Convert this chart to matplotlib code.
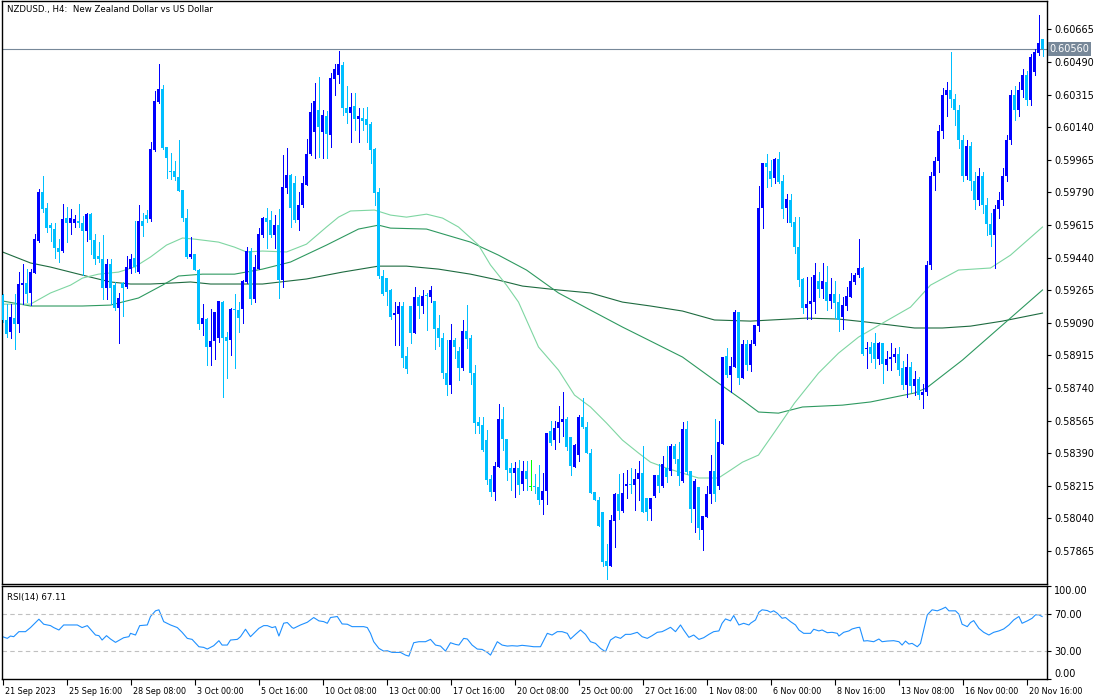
import numpy as np
import matplotlib
matplotlib.use("Agg")
import matplotlib.pyplot as plt
from matplotlib.transforms import ScaledTranslation, blended_transform_factory

# NZDUSD H4 candles, 21 Sep 2023 00:00 onwards (bar index = position)
opens = [
    0.59238, 0.59104, 0.59038, 0.59113, 0.59081, 0.59292, 0.59301, 0.59251, 0.59358, 0.59530,
    0.59793, 0.59704, 0.59614, 0.59593, 0.59492, 0.59474, 0.59650, 0.59623, 0.59623, 0.59637,
    0.59627, 0.59582, 0.59673, 0.59534, 0.59449, 0.59432, 0.59274, 0.59405, 0.59292, 0.59167,
    0.59306, 0.59283, 0.59381, 0.59440, 0.59364, 0.59637, 0.59668, 0.59646, 0.60017, 0.60276,
    0.60344, 0.60031, 0.59906, 0.59904, 0.59870, 0.59802, 0.59653, 0.59444, 0.59458, 0.59372,
    0.59081, 0.59109, 0.58961, 0.58991, 0.59009, 0.59202, 0.59014, 0.58997, 0.59163, 0.59158,
    0.59163, 0.59310, 0.59476, 0.59217, 0.59381, 0.59561, 0.59650, 0.59641, 0.59561, 0.59614,
    0.59319, 0.59811, 0.59883, 0.59842, 0.59641, 0.59722, 0.59829, 0.59996, 0.60116, 0.60232,
    0.60112, 0.60202, 0.60098, 0.60401, 0.60420, 0.60474, 0.60244, 0.60214, 0.60253, 0.60184,
    0.60191, 0.60184, 0.60157, 0.60022, 0.59793, 0.59342, 0.59332, 0.59266, 0.59131, 0.59135,
    0.59181, 0.58911, 0.59181, 0.59033, 0.59226, 0.59180, 0.59239, 0.59230, 0.59208, 0.59060,
    0.59006, 0.58818, 0.58755, 0.58997, 0.58938, 0.58845, 0.59045, 0.59006, 0.58818, 0.58559,
    0.58541, 0.58460, 0.58249, 0.58183, 0.58317, 0.58576, 0.58466, 0.58308, 0.58285, 0.58313,
    0.58224, 0.58294, 0.58210, 0.58213, 0.58210, 0.58138, 0.58186, 0.58508, 0.58460, 0.58523,
    0.58555, 0.58573, 0.58478, 0.58317, 0.58383, 0.58585, 0.58532, 0.58392, 0.58183, 0.58141,
    0.58072, 0.57810, 0.57785, 0.58027, 0.58170, 0.58081, 0.58213, 0.58227, 0.58218, 0.58249,
    0.58285, 0.58150, 0.58088, 0.58159, 0.58272, 0.58213, 0.58313, 0.58294, 0.58428, 0.58358,
    0.58240, 0.58519, 0.58294, 0.58088, 0.58209, 0.57980, 0.58048, 0.58170, 0.58294, 0.58213,
    0.58442, 0.58911, 0.58809, 0.58854, 0.59149, 0.58791, 0.58976, 0.58863, 0.58976, 0.59074,
    0.59704, 0.59949, 0.59905, 0.59869, 0.59969, 0.59851, 0.59704, 0.59749, 0.59629, 0.59495,
    0.59325, 0.59167, 0.59190, 0.59203, 0.59314, 0.59271, 0.59310, 0.59208, 0.59244, 0.59199,
    0.59122, 0.59181, 0.59230, 0.59310, 0.59346, 0.59385, 0.58947, 0.58961, 0.58983, 0.58898,
    0.58983, 0.58863, 0.58893, 0.58904, 0.58920, 0.58845, 0.58755, 0.58850, 0.58750, 0.58790,
    0.58700, 0.58720, 0.59400, 0.59880, 0.59960, 0.60120, 0.60310, 0.60340, 0.60290, 0.60230,
    0.60070, 0.59880, 0.60040, 0.59850, 0.59750, 0.59880, 0.59720, 0.59620, 0.59560, 0.59700,
    0.59750, 0.59880, 0.60070, 0.60310, 0.60230, 0.60340, 0.60420, 0.60285, 0.60436, 0.60538,
    0.60613,
]
highs = [
    0.59242, 0.59193, 0.59193, 0.59242, 0.59364, 0.59405, 0.59378, 0.59378, 0.59566, 0.59807,
    0.59879, 0.59734, 0.59627, 0.59627, 0.59539, 0.59730, 0.59712, 0.59698, 0.59668, 0.59727,
    0.59662, 0.59677, 0.59677, 0.59566, 0.59525, 0.59560, 0.59432, 0.59432, 0.59310, 0.59251,
    0.59310, 0.59448, 0.59458, 0.59637, 0.59722, 0.59677, 0.59695, 0.60058, 0.60335, 0.60479,
    0.60366, 0.60031, 0.60003, 0.59958, 0.60071, 0.59802, 0.59700, 0.59551, 0.59458, 0.59378,
    0.59190, 0.59116, 0.59163, 0.59149, 0.59206, 0.59206, 0.59041, 0.59167, 0.59247, 0.59199,
    0.59319, 0.59498, 0.59492, 0.59453, 0.59600, 0.59659, 0.59704, 0.59691, 0.59668, 0.59700,
    0.59990, 0.60026, 0.59890, 0.59878, 0.59793, 0.59878, 0.60076, 0.60268, 0.60375, 0.60407,
    0.60232, 0.60228, 0.60429, 0.60477, 0.60549, 0.60492, 0.60363, 0.60321, 0.60321, 0.60241,
    0.60241, 0.60250, 0.60166, 0.60026, 0.59815, 0.59373, 0.59332, 0.59269, 0.59203, 0.59199,
    0.59199, 0.58961, 0.59181, 0.59284, 0.59239, 0.59266, 0.59248, 0.59287, 0.59208, 0.59131,
    0.59033, 0.58997, 0.59083, 0.59006, 0.58961, 0.59105, 0.59185, 0.59024, 0.58863, 0.58585,
    0.58585, 0.58517, 0.58272, 0.58344, 0.58653, 0.58636, 0.58466, 0.58338, 0.58344, 0.58353,
    0.58349, 0.58349, 0.58353, 0.58281, 0.58326, 0.58285, 0.58501, 0.58564, 0.58564, 0.58643,
    0.58716, 0.58585, 0.58478, 0.58442, 0.58594, 0.58687, 0.58559, 0.58410, 0.58183, 0.58156,
    0.58072, 0.57902, 0.58057, 0.58177, 0.58278, 0.58285, 0.58299, 0.58308, 0.58303, 0.58347,
    0.58428, 0.58150, 0.58150, 0.58272, 0.58331, 0.58374, 0.58428, 0.58439, 0.58439, 0.58451,
    0.58558, 0.58562, 0.58294, 0.58254, 0.58209, 0.58052, 0.58213, 0.58379, 0.58571, 0.58562,
    0.58904, 0.58952, 0.58904, 0.59158, 0.59149, 0.58997, 0.58997, 0.58997, 0.59078, 0.59824,
    0.59949, 0.59996, 0.59964, 0.59973, 0.60005, 0.59883, 0.59781, 0.59781, 0.59656, 0.59656,
    0.59332, 0.59337, 0.59337, 0.59412, 0.59364, 0.59412, 0.59394, 0.59332, 0.59316, 0.59244,
    0.59230, 0.59280, 0.59359, 0.59359, 0.59539, 0.59391, 0.58988, 0.58988, 0.59036, 0.58988,
    0.58983, 0.58940, 0.58979, 0.58952, 0.58961, 0.58884, 0.58925, 0.58880, 0.58830, 0.58800,
    0.58760, 0.59420, 0.59900, 0.59980, 0.60150, 0.60350, 0.60380, 0.60543, 0.60320, 0.60260,
    0.60100, 0.60070, 0.60060, 0.59900, 0.59920, 0.59900, 0.59760, 0.59680, 0.59720, 0.59790,
    0.59920, 0.60100, 0.60340, 0.60360, 0.60380, 0.60450, 0.60440, 0.60530, 0.60560, 0.60742,
    0.60613,
]
lows = [
    0.59095, 0.59014, 0.59006, 0.58948, 0.59038, 0.59193, 0.59202, 0.59188, 0.59355, 0.59525,
    0.59686, 0.59578, 0.59530, 0.59440, 0.59417, 0.59471, 0.59525, 0.59569, 0.59605, 0.59602,
    0.59346, 0.59530, 0.59458, 0.59408, 0.59417, 0.59220, 0.59220, 0.59193, 0.59161, 0.58984,
    0.59127, 0.59278, 0.59355, 0.59364, 0.59355, 0.59555, 0.59632, 0.59637, 0.60013, 0.60267,
    0.60022, 0.59865, 0.59861, 0.59856, 0.59799, 0.59637, 0.59440, 0.59440, 0.59372, 0.59056,
    0.59023, 0.58862, 0.58866, 0.58895, 0.58988, 0.58692, 0.58794, 0.58916, 0.58848, 0.59041,
    0.59091, 0.59301, 0.59193, 0.59202, 0.59381, 0.59552, 0.59489, 0.59552, 0.59489, 0.59221,
    0.59283, 0.59784, 0.59605, 0.59632, 0.59588, 0.59713, 0.59829, 0.59990, 0.59972, 0.59981,
    0.59976, 0.59972, 0.60035, 0.60313, 0.60375, 0.60205, 0.60160, 0.60062, 0.60125, 0.60062,
    0.60125, 0.60058, 0.59946, 0.59722, 0.59328, 0.59239, 0.59185, 0.59108, 0.58970, 0.58970,
    0.58854, 0.58822, 0.58979, 0.59033, 0.59113, 0.59140, 0.59051, 0.59203, 0.58949, 0.58965,
    0.58791, 0.58702, 0.58711, 0.58899, 0.58782, 0.58836, 0.58952, 0.58764, 0.58496, 0.58496,
    0.58403, 0.58227, 0.58159, 0.58138, 0.58317, 0.58406, 0.58245, 0.58195, 0.58156, 0.58170,
    0.58192, 0.58195, 0.58195, 0.58174, 0.58120, 0.58066, 0.58120, 0.58433, 0.58415, 0.58451,
    0.58483, 0.58406, 0.58272, 0.58317, 0.58349, 0.58523, 0.58389, 0.58177, 0.58138, 0.57998,
    0.57783, 0.57717, 0.57785, 0.57884, 0.58039, 0.58075, 0.58147, 0.58174, 0.58084, 0.58138,
    0.58075, 0.58034, 0.58034, 0.58156, 0.58183, 0.58209, 0.58236, 0.58272, 0.58335, 0.58218,
    0.58236, 0.58281, 0.58021, 0.57968, 0.57927, 0.57873, 0.58048, 0.58124, 0.58134, 0.58200,
    0.58442, 0.58800, 0.58720, 0.58854, 0.58764, 0.58791, 0.58836, 0.58832, 0.58970, 0.59047,
    0.59600, 0.59820, 0.59826, 0.59842, 0.59838, 0.59654, 0.59632, 0.59609, 0.59462, 0.59289,
    0.59140, 0.59108, 0.59108, 0.59140, 0.59230, 0.59221, 0.59158, 0.59167, 0.59113, 0.59047,
    0.59056, 0.59158, 0.59230, 0.59298, 0.59337, 0.58916, 0.58848, 0.58881, 0.58848, 0.58868,
    0.58768, 0.58836, 0.58839, 0.58881, 0.58810, 0.58737, 0.58689, 0.58720, 0.58700, 0.58680,
    0.58632, 0.58700, 0.59380, 0.59800, 0.59900, 0.60080, 0.60200, 0.60250, 0.60150, 0.60030,
    0.59850, 0.59860, 0.59800, 0.59700, 0.59720, 0.59680, 0.59560, 0.59500, 0.59384, 0.59650,
    0.59720, 0.59850, 0.60050, 0.60180, 0.60200, 0.60300, 0.60260, 0.60260, 0.60420, 0.60527,
    0.60521,
]
closes = [
    0.59104, 0.59032, 0.59122, 0.59081, 0.59296, 0.59303, 0.59247, 0.59364, 0.59539, 0.59793,
    0.59700, 0.59596, 0.59596, 0.59489, 0.59471, 0.59646, 0.59623, 0.59655, 0.59645, 0.59623,
    0.59582, 0.59673, 0.59532, 0.59432, 0.59430, 0.59274, 0.59405, 0.59274, 0.59167, 0.59224,
    0.59278, 0.59390, 0.59432, 0.59387, 0.59637, 0.59609, 0.59646, 0.60022, 0.60282, 0.60344,
    0.60029, 0.59972, 0.59901, 0.59870, 0.59799, 0.59650, 0.59444, 0.59458, 0.59372, 0.59086,
    0.59113, 0.58961, 0.58993, 0.59149, 0.59206, 0.59006, 0.58993, 0.59163, 0.59158, 0.59117,
    0.59313, 0.59476, 0.59217, 0.59387, 0.59569, 0.59650, 0.59632, 0.59561, 0.59614, 0.59319,
    0.59817, 0.59883, 0.59707, 0.59641, 0.59722, 0.59838, 0.59996, 0.60223, 0.60280, 0.60142,
    0.60205, 0.60101, 0.60406, 0.60452, 0.60477, 0.60241, 0.60214, 0.60246, 0.60184, 0.60202,
    0.60173, 0.60151, 0.60017, 0.59788, 0.59342, 0.59242, 0.59253, 0.59122, 0.59140, 0.59181,
    0.58902, 0.58840, 0.59033, 0.59230, 0.59180, 0.59233, 0.59233, 0.59266, 0.59056, 0.59006,
    0.58818, 0.58755, 0.58997, 0.58958, 0.58845, 0.59045, 0.59003, 0.58818, 0.58553, 0.58537,
    0.58406, 0.58245, 0.58183, 0.58320, 0.58573, 0.58466, 0.58299, 0.58285, 0.58313, 0.58218,
    0.58294, 0.58254, 0.58210, 0.58206, 0.58138, 0.58186, 0.58501, 0.58446, 0.58523, 0.58555,
    0.58576, 0.58424, 0.58320, 0.58433, 0.58585, 0.58532, 0.58389, 0.58177, 0.58141, 0.57998,
    0.57807, 0.57785, 0.58030, 0.58170, 0.58081, 0.58177, 0.58227, 0.58218, 0.58249, 0.58285,
    0.58075, 0.58075, 0.58150, 0.58272, 0.58213, 0.58331, 0.58263, 0.58428, 0.58358, 0.58267,
    0.58519, 0.58290, 0.58088, 0.58240, 0.57986, 0.58052, 0.58170, 0.58294, 0.58170, 0.58448,
    0.58904, 0.58809, 0.58857, 0.59149, 0.58795, 0.58976, 0.58863, 0.58976, 0.59078, 0.59704,
    0.59949, 0.59928, 0.59862, 0.59969, 0.59847, 0.59699, 0.59752, 0.59627, 0.59495, 0.59319,
    0.59171, 0.59190, 0.59206, 0.59346, 0.59271, 0.59316, 0.59208, 0.59242, 0.59194, 0.59104,
    0.59185, 0.59235, 0.59314, 0.59346, 0.59385, 0.58925, 0.58956, 0.58925, 0.58898, 0.58983,
    0.58868, 0.58895, 0.58908, 0.58920, 0.58836, 0.58755, 0.58850, 0.58750, 0.58790, 0.58700,
    0.58720, 0.59400, 0.59880, 0.59960, 0.60120, 0.60310, 0.60340, 0.60290, 0.60230, 0.60070,
    0.59880, 0.60040, 0.59850, 0.59750, 0.59880, 0.59720, 0.59620, 0.59560, 0.59700, 0.59750,
    0.59880, 0.60070, 0.60310, 0.60230, 0.60340, 0.60420, 0.60285, 0.60516, 0.60543, 0.60591,
    0.60560,
]

# three moving averages at a few bars each
fast_ma_bars = [0, 7, 12, 17, 20, 24, 29, 33, 37, 41, 45, 48, 54, 58, 61, 65, 71, 76, 81, 84,
                87, 93, 97, 101, 106, 110, 114, 119, 122, 126, 129, 134, 139, 143, 147, 151, 155, 159, 162, 166,
                170, 174, 179, 182, 185, 189, 193, 198, 204, 209, 214, 220, 227, 232, 239, 247, 252, 260]
fast_ma = [0.59190, 0.59190, 0.59250, 0.59292, 0.59330, 0.59351, 0.59362, 0.59389, 0.59443, 0.59507,
           0.59545, 0.59539, 0.59523, 0.59496, 0.59470, 0.59475, 0.59470, 0.59512, 0.59604, 0.59657,
           0.59690, 0.59695, 0.59668, 0.59657, 0.59673, 0.59652, 0.59604, 0.59507, 0.59400, 0.59292,
           0.59201, 0.58960, 0.58836, 0.58702, 0.58638, 0.58552, 0.58460, 0.58391, 0.58342, 0.58310,
           0.58283, 0.58257, 0.58257, 0.58299, 0.58342, 0.58380, 0.58503, 0.58659, 0.58820, 0.58927,
           0.59013, 0.59088, 0.59174, 0.59292, 0.59373, 0.59384, 0.59453, 0.59604]
mid_ma_bars = [0, 7, 20, 27, 29, 34, 40, 44, 50, 58, 65, 72, 81, 89, 94, 97, 106, 111, 117, 124,
               131, 139, 147, 155, 162, 170, 179, 185, 189, 194, 200, 210, 217, 228, 231, 240, 250, 260]
mid_ma = [0.59207, 0.59180, 0.59180, 0.59185, 0.59196, 0.59223, 0.59292, 0.59341, 0.59351, 0.59351,
          0.59378, 0.59416, 0.59507, 0.59593, 0.59614, 0.59598, 0.59593, 0.59561, 0.59523, 0.59453,
          0.59373, 0.59250, 0.59158, 0.59067, 0.58992, 0.58906, 0.58766, 0.58675, 0.58611, 0.58605,
          0.58638, 0.58648, 0.58665, 0.58713, 0.58740, 0.58890, 0.59078, 0.59266]
slow_ma_bars = [0, 7, 12, 17, 22, 27, 32, 37, 42, 47, 52, 57, 65, 76, 85, 94, 101, 109, 117, 124,
                130, 139, 147, 155, 162, 170, 178, 187, 201, 209, 216, 222, 228, 235, 242, 250, 260]
slow_ma = [0.59470, 0.59411, 0.59389, 0.59362, 0.59335, 0.59309, 0.59298, 0.59298, 0.59303, 0.59309,
           0.59298, 0.59298, 0.59298, 0.59325, 0.59362, 0.59394, 0.59394, 0.59378, 0.59351, 0.59319,
           0.59287, 0.59266, 0.59250, 0.59201, 0.59180, 0.59153, 0.59105, 0.59099, 0.59115, 0.59110,
           0.59094, 0.59078, 0.59062, 0.59062, 0.59072, 0.59099, 0.59142]

# RSI(14)
rsi_bars = [0, 1.2, 2, 2.8, 4.1, 5.75, 7, 9.1, 10.3, 12, 12.8, 14.1, 15.3, 18.7, 19.9, 21.2, 23.25, 24.1, 24.9, 26,
            27, 28.25, 30.3, 31.6, 32, 33.25, 34.3, 36.2, 37, 38.25, 39.1, 40.3, 42, 43.7, 44.9, 46.2, 47.4, 49.1, 50.3, 51.2,
            52.8, 54.1, 54.9, 56.2, 57, 58.7, 59.5, 60.75, 62, 64.1, 65.3, 66.2, 67.4, 68.25, 69.1, 70.3, 71.2, 72.4, 72.8, 74.5,
            76.2, 77.8, 79.1, 80.3, 81.2, 82, 83.7, 84.9, 86.2, 87.4, 90.3, 91.2, 92, 92.8, 94.1, 95.3, 96.2, 97.4, 98.7,
            99.5, 100.75, 101.6, 102.8, 104.1, 105.75, 107, 108.25, 109.5, 110.75, 112, 113.25, 114.1, 115.3, 116.2, 117.4,
            118.7, 119.9, 121.2, 122, 123.7, 124.9, 126.2, 127.4, 128.7, 129.9, 131.6, 132.8, 134.5, 136.2, 137.4, 138.7,
            139.9, 141.2, 142, 143.25, 144.5, 145.75, 147, 148.25, 149.5, 150.75, 152, 153.25, 154.5, 155.75, 157, 158.7,
            159.9, 161.2, 162.4, 163.7, 164.9, 165.75, 167, 168.25, 169.5, 170.3, 171.6, 172.8, 174.1, 175.3, 176.6, 177.8,
            179.1, 179.9, 180.75, 182, 182.8, 184.1, 185.3, 186.6,
            187, 188.25, 189.1, 189.9, 191.2, 192, 192.8, 193.7, 194.9, 195.75, 197, 198.25, 199.1, 200.3, 202, 202.8,
            204.1, 204.9, 206.2, 207.4, 208.7, 209.1, 210.3, 211.6, 212.4, 213.7, 214.3, 215.3, 216.2, 217.8, 219.1, 219.9,
            221.2, 222.8, 224.1, 224.9, 225.75, 226.6, 227.4, 228.7, 229.5, 230.3, 231.2, 232.4, 233.7, 234.9, 235.75, 236.6,
            238.25, 239.1, 239.9, 241.2, 242, 242.8, 244.1, 245.3, 246.6, 247.8, 249.1, 250.3, 251.6, 252.8, 254.1, 254.9,
            256.2, 257.4, 258.25, 259.1, 259.9]
rsi_vals = [45.5, 43.7, 46.2, 45.5, 50.9, 50.9, 55.3, 64.3, 58.9, 57.4, 55.3, 52.7, 58.1, 58.1, 55.3, 57.4, 47.3, 46.6, 41.9, 46.6,
            43.0, 39.4, 44.4, 45.5, 49.1, 47.3, 57.4, 58.1, 67.2, 73.3, 74.4, 61.7, 58.1, 55.3, 50.2, 43.7, 42.6, 34.7, 34.0, 32.2,
            35.8, 41.2, 36.5, 36.5, 41.9, 42.6, 45.5, 53.5, 45.5, 54.5, 57.4, 57.4, 55.3, 56.3, 46.2, 60.0, 60.7, 55.3, 54.5, 58.1,
            61.0, 66.1, 62.5, 61.7, 59.9, 66.1, 67.2, 59.2, 58.9, 56.3, 56.3, 55.3, 49.1, 40.1, 32.9, 30.0, 30.4, 28.6, 28.6,
            28.6, 25.7, 24.6, 39.0, 40.1, 40.1, 42.6, 36.5, 35.4, 30.0, 39.0, 37.2, 36.5, 43.7, 43.0, 36.5,
            32.2, 31.8, 28.6, 25.7, 40.1, 36.5, 35.4, 35.8, 35.4, 36.2, 35.4, 34.7, 34.7, 49.1, 47.3, 50.9,
            50.9, 49.1, 43.0, 48.0, 52.7, 48.0, 40.1, 38.3, 32.9, 29.3, 41.9, 45.5, 43.7, 48.0, 48.0, 50.2,
            45.5, 43.7, 46.6, 50.2, 50.9, 52.7, 55.6, 50.9, 58.1, 52.7, 44.8, 47.3, 42.6, 44.4, 48.0, 50.9,
            51.7, 59.9, 64.6, 62.5, 68.2, 58.1, 59.9, 58.1,
            59.9, 63.5, 71.8, 74.4, 73.6, 71.8, 73.3, 70.7, 65.3, 66.1, 61.7, 58.1, 52.7, 49.1, 49.1, 53.5,
            51.7, 52.7, 49.8, 50.2, 49.1, 46.2, 50.2, 51.7, 53.8, 55.3, 55.6, 40.8, 41.2, 40.1, 43.0, 40.1,
            40.8, 41.2, 40.1, 36.5, 40.8, 37.6, 38.3, 34.7, 38.3, 52.7, 69.0, 74.4, 73.3, 75.4, 77.2, 73.3,
            73.3, 69.7, 58.9, 56.3, 60.7, 62.8, 54.5, 50.2, 47.3, 50.2, 51.7, 53.8, 58.1, 63.5, 67.2, 59.9,
            62.5, 65.3, 69.0, 69.0, 67.2]

tick_bars = list(range(0, 257, 16))
tick_labels = ['21 Sep 2023', '25 Sep 16:00', '28 Sep 08:00', '3 Oct 00:00', '5 Oct 16:00',
               '10 Oct 08:00', '13 Oct 00:00', '17 Oct 16:00', '20 Oct 08:00', '25 Oct 00:00',
               '27 Oct 16:00', '1 Nov 08:00', '6 Nov 00:00', '8 Nov 16:00', '13 Nov 08:00',
               '16 Nov 00:00', '20 Nov 16:00']
price_ticks = [0.57865, 0.58040, 0.58215, 0.58390, 0.58565, 0.58740, 0.58915, 0.59090, 0.59265,
               0.59440, 0.59615, 0.59790, 0.59965, 0.60140, 0.60315, 0.60490, 0.60665]
last_price = 0.60560
rsi_last = 67.11

BULL = '#0000FF'
BEAR = '#00BFFF'
DOJI = '#00FF00'
FS = 7         # price / rsi scale
FS_TIME = 5.8  # time scale
FS_INFO = 6.2  # panel captions


def draw_candles(ax):
    o = np.array(opens)
    h = np.array(highs)
    l = np.array(lows)
    c = np.array(closes)
    x = np.arange(len(c))
    colors = np.where(c > o, BULL, np.where(c < o, BEAR, DOJI))
    # 1px wicks and 3px bodies, no smoothing, like the terminal draws them
    ax.vlines(x, l, h, colors=colors, lw=0.72, antialiased=False, zorder=3)
    body = np.maximum(np.abs(c - o), 0.00004)
    ax.bar(x, body, bottom=np.minimum(o, c), width=0.72, color=colors, lw=0,
           antialiased=False, zorder=4)


def style_frame(ax):
    for s in ax.spines.values():
        s.set_color('black')
        s.set_linewidth(1.0)
    ax.yaxis.tick_right()
    ax.tick_params(axis='y', direction='out', length=3, width=0.8, pad=2, labelsize=FS)


fig = plt.figure(figsize=(11, 7), dpi=100)
W, H = 1100.0, 700.0
ax = fig.add_axes([1.5 / W, (H - 584) / H, 1045.5 / W, 583 / H])
ax2 = fig.add_axes([1.5 / W, (H - 679) / H, 1045.5 / W, 93 / H])

# 4 px per bar, bar centres on pixel centres
x_lo = -0.25
x_hi = x_lo + 1045.5 / 4

# price panel
draw_candles(ax)
ax.plot(slow_ma_bars, slow_ma, color='#1E6B40', lw=0.8, zorder=2)
ax.plot(mid_ma_bars, mid_ma, color='#2E9960', lw=0.8, zorder=2)
ax.plot(fast_ma_bars, fast_ma, color='#7ED6A2', lw=0.8, zorder=2)
ax.axhline(last_price, color='#778899', lw=0.8, zorder=1)
ax.set_xlim(x_lo, x_hi)
ax.set_ylim(0.57688, 0.60817)
ax.set_xticks([])
ax.set_yticks(price_ticks)
ax.set_yticklabels(['%.5f' % p for p in price_ticks])
style_frame(ax)
trans = blended_transform_factory(ax.transAxes, ax.transData)
ax.text(1.0025, last_price, '%.5f' % last_price, transform=trans, color='white', fontsize=FS,
        va='center', ha='left', bbox=dict(fc='#778899', ec='none', pad=1.2), zorder=10)
ax.text(0.005, 0.993, 'NZDUSD., H4:  New Zealand Dollar vs US Dollar', transform=ax.transAxes,
        va='top', ha='left', fontsize=FS_INFO)

# RSI panel
ax2.plot(rsi_bars, rsi_vals, color='#1E90FF', lw=0.8)
ax2.axhline(70, color='#C0C0C0', lw=0.8, ls=(0, (4, 3)))
ax2.axhline(30, color='#C0C0C0', lw=0.8, ls=(0, (4, 3)))
ax2.set_xlim(x_lo, x_hi)
ax2.set_ylim(0, 100)
ax2.set_yticks([0, 30, 70, 100])
ax2.set_yticklabels(['0.00', '30.00', '70.00', '100.00'])
style_frame(ax2)
ylabels = ax2.get_yticklabels()
ylabels[0].set_va('bottom')
ylabels[3].set_va('top')
ax2.text(0.005, 0.93, 'RSI(14) %.2f' % rsi_last, transform=ax2.transAxes, va='top', ha='left',
         fontsize=FS_INFO)

ax2.set_xticks(tick_bars)
ax2.set_xticklabels(tick_labels)
ax2.tick_params(axis='x', direction='out', length=4, width=0.8, pad=1.5, labelsize=FS_TIME)
shift = ScaledTranslation(2 / 72, 0, fig.dpi_scale_trans)
for lbl in ax2.get_xticklabels():
    lbl.set_ha('left')
    lbl.set_transform(lbl.get_transform() + shift)

fig.savefig('out.png', dpi=100)
